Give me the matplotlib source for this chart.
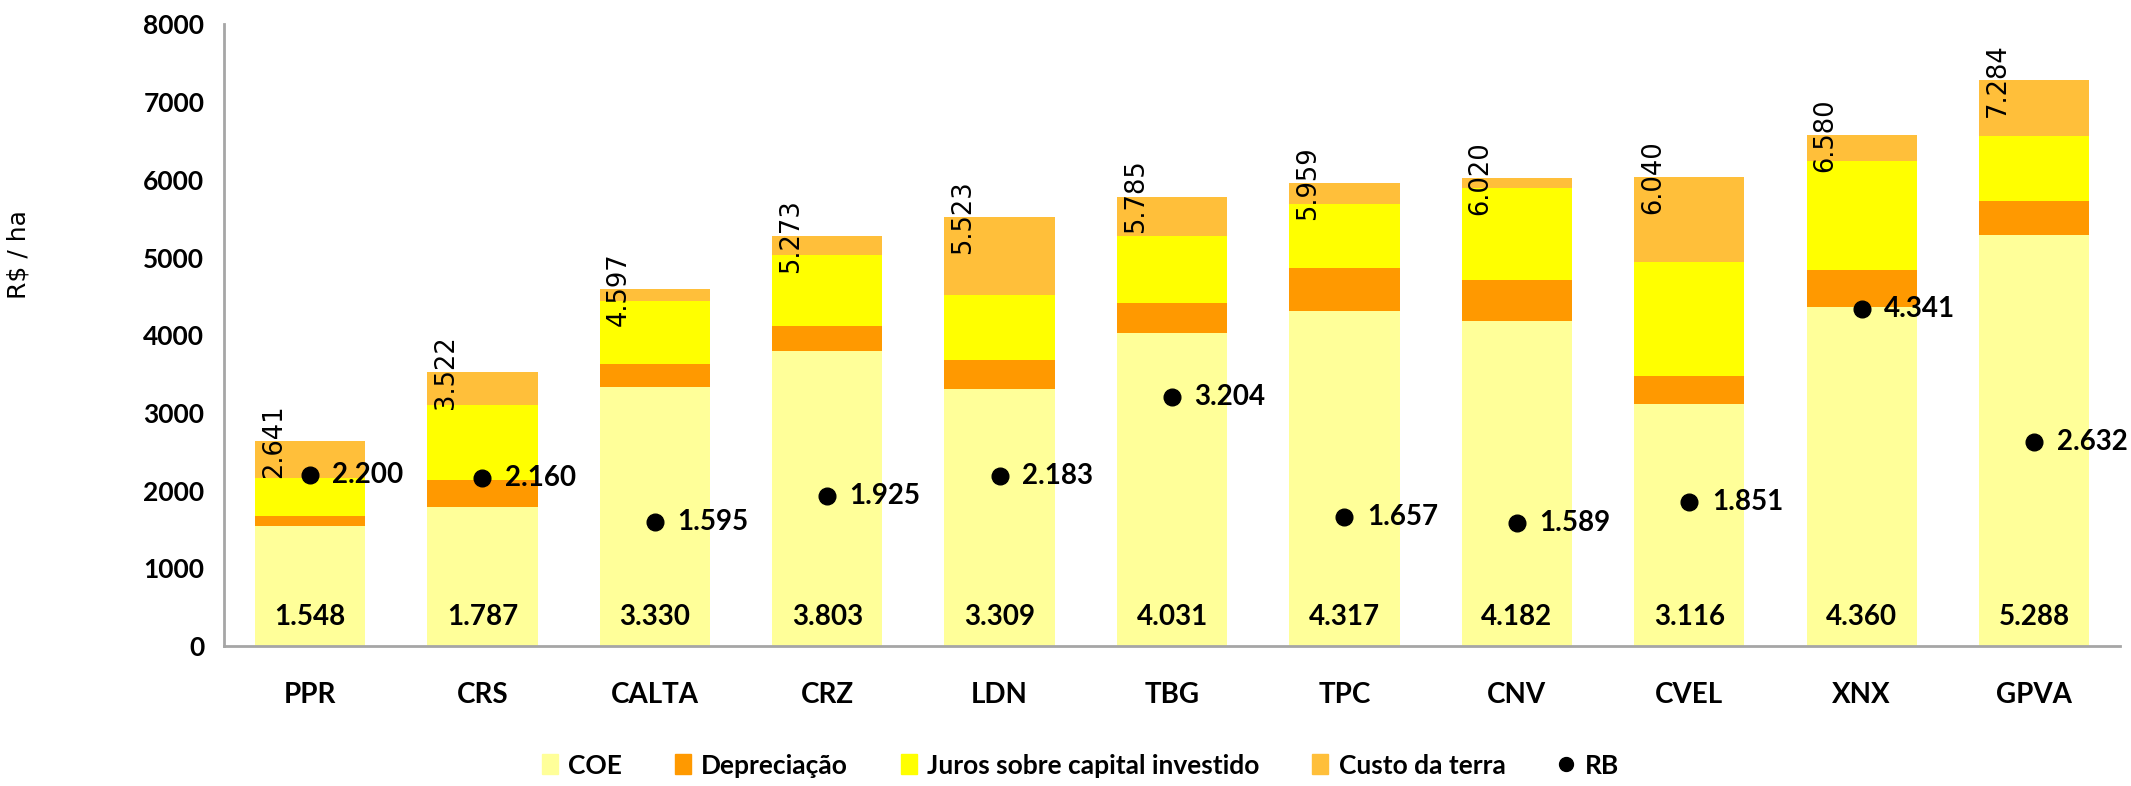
import numpy as np
import matplotlib
matplotlib.use("Agg")
from matplotlib import pyplot as plt
from matplotlib.lines import Line2D
from matplotlib.patches import Patch

# Data (R$ / ha)
categories = ["PPR", "CRS", "CALTA", "CRZ", "LDN", "TBG", "TPC", "CNV", "CVEL", "XNX", "GPVA"]
coe = [1548, 1787, 3330, 3803, 3309, 4031, 4317, 4182, 3116, 4360, 5288]
depreciacao = [120, 350, 300, 320, 370, 383, 550, 525, 355, 485, 442]
juros = [500, 965, 815, 915, 835, 868, 816, 1184, 1472, 1402, 833]
totals = [2641, 3522, 4597, 5273, 5523, 5785, 5959, 6020, 6040, 6580, 7284]
rb = [2200, 2160, 1595, 1925, 2183, 3204, 1657, 1589, 1851, 4341, 2632]
# custo da terra = total minus the other three
custo_terra = [t - c - d - j for t, c, d, j in zip(totals, coe, depreciacao, juros)]

col_coe = "#FFFF99"
col_dep = "#FF9900"
col_juros = "#FFFF00"
col_custo = "#FFBF3A"

def fmt(v):
    # Brazilian thousands separator
    return f"{v:,}".replace(",", ".")

plt.rcParams["font.family"] = ["Lato", "DejaVu Sans"]

fig = plt.figure(figsize=(21.31, 7.86), dpi=100)
ax = fig.add_axes([0.105, 0.178, 0.89, 0.791])

x = np.arange(len(categories))
w = 0.64
b1 = np.array(coe)
b2 = b1 + np.array(depreciacao)
b3 = b2 + np.array(juros)

ax.bar(x, coe, w, color=col_coe, label="COE")
ax.bar(x, depreciacao, w, bottom=b1, color=col_dep, label="Depreciação")
ax.bar(x, juros, w, bottom=b2, color=col_juros, label="Juros sobre capital investido")
ax.bar(x, custo_terra, w, bottom=b3, color=col_custo, label="Custo da terra")
ax.plot(x, rb, "o", color="black", markersize=12, linestyle="none", label="RB")

# labels
for i in range(len(categories)):
    ax.text(x[i], 370, fmt(coe[i]), ha="center", va="center",
            fontsize=20, fontweight="bold")
    ax.text(x[i] + 0.13, rb[i], fmt(rb[i]), ha="left", va="center",
            fontsize=20, fontweight="bold")
    ax.text(x[i] - 0.21, totals[i], fmt(totals[i]), ha="center", va="center",
            rotation=90, fontsize=18.5, family="DejaVu Sans")

ax.set_xlim(-0.5, len(categories) - 0.5)
ax.set_ylim(0, 8000)
ax.set_yticks(range(0, 8001, 1000))
ax.set_xticks(x)
ax.set_xticklabels(categories, fontsize=20, fontweight="bold")
for lab in ax.get_yticklabels():
    lab.set_fontsize(19)
    lab.set_fontweight("bold")
ax.tick_params(axis="both", length=0)
ax.tick_params(axis="x", pad=26)
ax.tick_params(axis="y", pad=14)

for s in ["top", "right"]:
    ax.spines[s].set_visible(False)
for s in ["left", "bottom"]:
    ax.spines[s].set_color("#A6A6A6")
    ax.spines[s].set_linewidth(2)

ax.set_ylabel("R$ / ha", fontsize=18, family="DejaVu Sans")
ax.yaxis.set_label_coords(-0.102, 0.63)

handles = [Patch(color=col_coe), Patch(color=col_dep), Patch(color=col_juros),
           Patch(color=col_custo),
           Line2D([], [], marker="o", color="black", linestyle="none", markersize=10)]
labels = ["COE", "Depreciação", "Juros sobre capital investido", "Custo da terra", "RB"]
fig.legend(handles, labels, loc="center", bbox_to_anchor=(0.507, 0.026), ncol=5,
           frameon=False, prop={"size": 19, "weight": "bold"},
           handlelength=0.6, handleheight=0.8, handletextpad=0.4, columnspacing=2.0)

fig.savefig("out.png", dpi=100)
